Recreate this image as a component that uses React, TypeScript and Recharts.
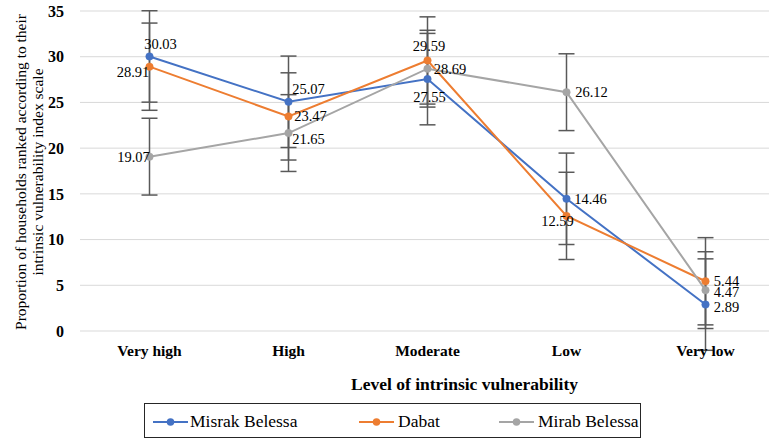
import React from 'react';
import { LineChart, Line, XAxis, YAxis, CartesianGrid, ErrorBar, LabelList } from 'recharts';

// values
const categories = ['Very high', 'High', 'Moderate', 'Low', 'Very low'];
const misrakBelessa = [30.03, 25.07, 27.55, 14.46, 2.89];
const dabat = [28.91, 23.47, 29.59, 12.59, 5.44];
const mirabBelessa = [19.07, 21.65, 28.69, 26.12, 4.47];
// error bar half-lengths (same for every point of a series)
const misrakError = [5.0, 5.0, 5.0, 5.0, 5.0];
const dabatError = [4.77, 4.77, 4.77, 4.77, 4.77];
const mirabError = [4.2, 4.2, 4.2, 4.2, 4.2];
const yTicks = [0, 5, 10, 15, 20, 25, 30, 35];

const FONT = 'Liberation Serif, DejaVu Serif, serif';
const BLUE = '#4472C4';
const ORANGE = '#ED7D31';
const GRAY = '#A5A5A5';
const ERR = '#595959';

// where each data label sits relative to its point (dx, dy)
const labelOffsets: Record<string, number[][]> = {
  misrak: [[11, -12], [20, -13], [2, 18], [24, 0], [21, 2]],
  dabat: [[-16.5, 5], [22, 0], [1.5, -14], [-9, 5], [21, 0]],
  mirab: [[-16, 0], [20, 6], [22.5, 0], [25, 0], [21, 2]],
};

const data = categories.map((level, i) => ({
  level,
  misrak: misrakBelessa[i],
  misrakErr: misrakError[i],
  dabat: dabat[i],
  dabatErr: dabatError[i],
  mirab: mirabBelessa[i],
  mirabErr: mirabError[i],
}));

const series = [
  { key: 'misrak', name: 'Misrak Belessa', color: BLUE },
  { key: 'dabat', name: 'Dabat', color: ORANGE },
  { key: 'mirab', name: 'Mirab Belessa', color: GRAY },
];

const makeLabel = (key: string) => (props: any) => {
  const { x, y, value, index } = props;
  const off = labelOffsets[key][index] || [0, 0];
  return (
    <text
      x={x + off[0]}
      y={y + off[1]}
      textAnchor="middle"
      dominantBaseline="central"
      style={{ fontFamily: FONT }}
      fontSize={14.5}
      fill="#000"
    >
      {Number(value).toFixed(2)}
    </text>
  );
};

const YTitle = () => (
  <text transform="translate(26,172) rotate(-90)" textAnchor="middle" style={{ fontFamily: FONT }} fontSize={15.5} fill="#000">
    <tspan x={0} y={0}>Proportion of households ranked according to their</tspan>
    <tspan x={0} y={16.5}>intrinsic vulnerability index scale</tspan>
  </text>
);

const XTitle = () => (
  <text x={351} y={390} textAnchor="start" style={{ fontFamily: FONT }} fontSize={17.5} fontWeight="bold" fill="#000">
    Level of intrinsic vulnerability
  </text>
);

function LegendBox() {
  const items = [
    { ...series[0], sym: 8, txt: 45 },
    { ...series[1], sym: 214, txt: 253 },
    { ...series[2], sym: 354, txt: 393 },
  ];
  return (
    <div
      style={{
        position: 'absolute',
        left: 144,
        top: 403,
        width: 497,
        height: 35,
        border: '1px solid #262626',
        boxSizing: 'border-box',
        fontFamily: FONT,
        fontSize: 17.5,
        color: '#000',
      }}
    >
      {items.map((it) => (
        <React.Fragment key={it.key}>
          <svg width={35} height={10} style={{ position: 'absolute', left: it.sym, top: 13 }}>
            <line x1={0} y1={5} x2={35} y2={5} stroke={it.color} strokeWidth={2} />
            <circle cx={17.5} cy={5} r={3.75} fill={it.color} />
          </svg>
          <span style={{ position: 'absolute', left: it.txt, top: 7, lineHeight: '20px', whiteSpace: 'nowrap' }}>
            {it.name}
          </span>
        </React.Fragment>
      ))}
    </div>
  );
}

const xTickStyle = { fontFamily: FONT, fontSize: 15.5, fontWeight: 'bold', fill: '#000' };
const yTickStyle = { fontFamily: FONT, fontSize: 16, fontWeight: 'bold', fill: '#000' };

export default function App() {
  return (
    <div style={{ position: 'absolute', left: 0, top: 0, width: 769, height: 439, overflow: 'hidden', background: '#fff', fontFamily: FONT }}>
      <LineChart width={775} height={439} data={data} margin={{ top: 11, right: 0, left: 0, bottom: 78 }} style={{ fontFamily: FONT }}>
        <CartesianGrid horizontal vertical={false} stroke="#d9d9d9" strokeWidth={1} />
        <XAxis
          dataKey="level"
          padding={{ left: 69.5, right: 69.5 }}
          axisLine={false}
          tickLine={false}
          tickSize={0}
          tickMargin={14}
          height={30}
          tick={xTickStyle}
          interval={0}
        />
        <YAxis
          width={80}
          domain={[0, 35]}
          ticks={yTicks}
          allowDataOverflow
          axisLine={false}
          tickLine={false}
          tickSize={0}
          tickMargin={16}
          tick={yTickStyle}
        />
        {series.map((s) => (
          <Line
            key={s.key}
            type="linear"
            dataKey={s.key}
            name={s.name}
            stroke={s.color}
            strokeWidth={2}
            dot={{ r: 3.75, fill: s.color, stroke: s.color, strokeWidth: 0.5 }}
            activeDot={false}
            isAnimationActive={false}
          >
            <ErrorBar dataKey={`${s.key}Err`} width={8} stroke={ERR} strokeWidth={1.5} direction="y" isAnimationActive={false} />
            <LabelList dataKey={s.key} content={makeLabel(s.key)} />
          </Line>
        ))}
        <YTitle />
        <XTitle />
      </LineChart>
      <LegendBox />
    </div>
  );
}
